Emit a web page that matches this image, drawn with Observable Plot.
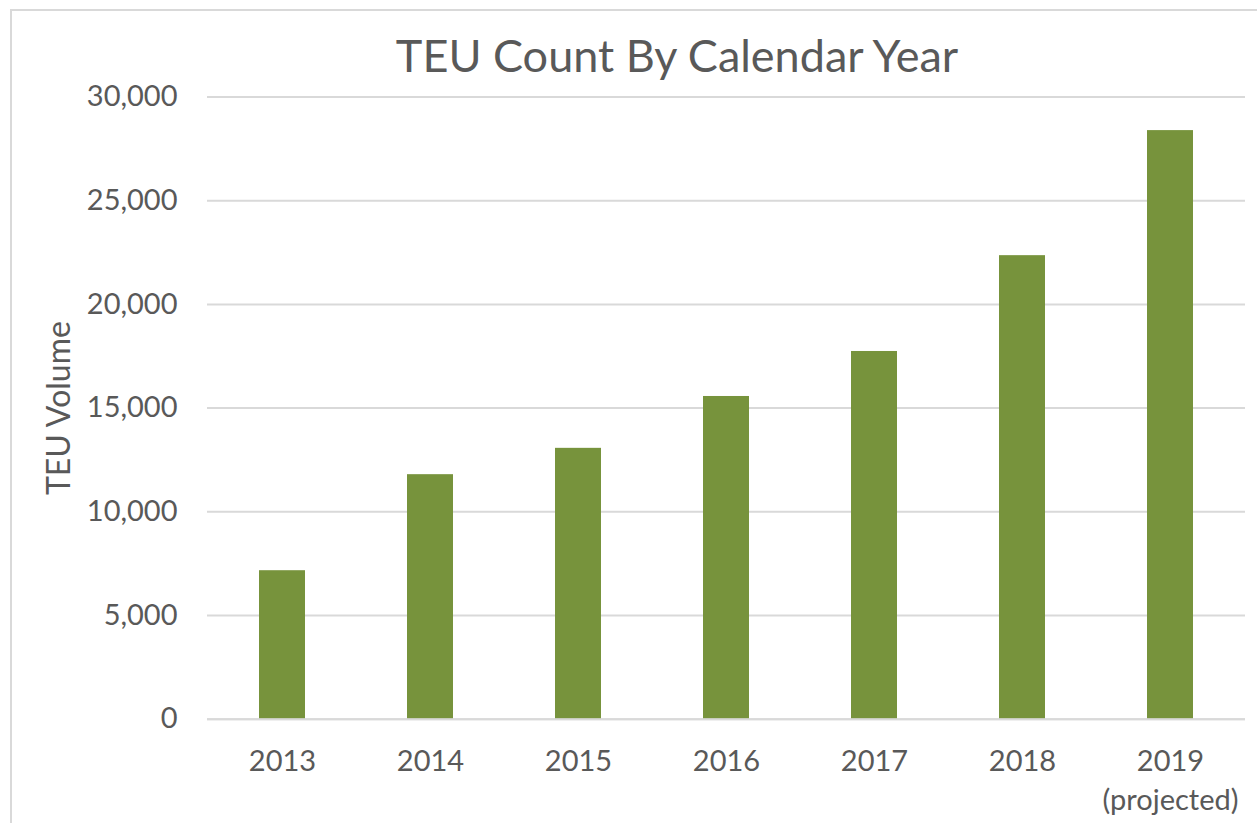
<!DOCTYPE html>
<html>
<head>
<meta charset="utf-8">
<script src="https://cdn.jsdelivr.net/npm/d3@7"></script>
<script src="https://cdn.jsdelivr.net/npm/@observablehq/plot@0.6"></script>
<style>
  html, body { margin: 0; padding: 0; background: #fff; overflow: hidden; }
  #wrap { position: relative; width: 1257px; height: 823px; overflow: hidden; font-family: Lato, "Open Sans", sans-serif; }
  #frame { position: absolute; left: 10px; top: 9px; width: 1400px; height: 1000px; border: 2px solid #d9d9d9; box-sizing: border-box; }
  #title { position: absolute; left: 677px; top: 33px; transform: translateX(-50%); white-space: nowrap;
           font-size: 45px; line-height: 1; color: #595959; font-family: Lato, "Open Sans", sans-serif; }
  #chart { position: absolute; left: 0; top: 0; }
</style>
</head>
<body>
<div id="wrap">
  <div id="frame"></div>
  <div id="chart"></div>
  <div id="title">TEU Count By Calendar Year</div>
</div>
<script>
const years = ["2013", "2014", "2015", "2016", "2017", "2018", "2019"];
const teuVolume = [7160, 11790, 13060, 15560, 17730, 22350, 28380];
const xTickLabels = ["2013", "2014", "2015", "2016", "2017", "2018", "2019\n(projected)"];
const yTicks = [0, 5000, 10000, 15000, 20000, 25000, 30000];

const data = years.map((y, i) => ({year: y, value: teuVolume[i]}));
const labelFor = new Map(years.map((y, i) => [y, xTickLabels[i]]));

const textColor = "#595959";
const font = "Lato, 'Open Sans', sans-serif";

const plot = Plot.plot({
  width: 1257,
  height: 823,
  marginTop: 96.5,
  marginBottom: 104.3,
  marginLeft: 207,
  marginRight: 12,
  style: {fontFamily: font, fontSize: "29px", color: textColor, background: "transparent", overflow: "visible"},
  x: {domain: years, paddingInner: 0.686, paddingOuter: 0.343},
  y: {domain: [0, 30000]},
  marks: [
    Plot.gridY(yTicks, {stroke: "#d9d9d9", strokeOpacity: 1, strokeWidth: 2}),
    Plot.barY(data, {x: "year", y: "value", fill: "#77933c"}),
    Plot.ruleY([0], {stroke: "#d9d9d9", strokeWidth: 2}),
    Plot.axisY({
      ticks: yTicks, tickSize: 0, tickPadding: 30,
      tickFormat: d => d3.format(",")(d),
      fill: textColor, fontSize: 29, label: null
    }),
    Plot.axisY({
      ticks: [], tickSize: 0,
      fill: textColor, fontSize: 32,
      label: "TEU Volume", labelAnchor: "center", labelArrow: "none", labelOffset: 160
    }),
    Plot.axisX({
      tickSize: 0, tickPadding: 24,
      tickFormat: d => labelFor.get(d),
      lineHeight: 1.34,
      fill: textColor, fontSize: 29, label: null
    })
  ]
});
document.getElementById("chart").appendChild(plot);
</script>
</body>
</html>
